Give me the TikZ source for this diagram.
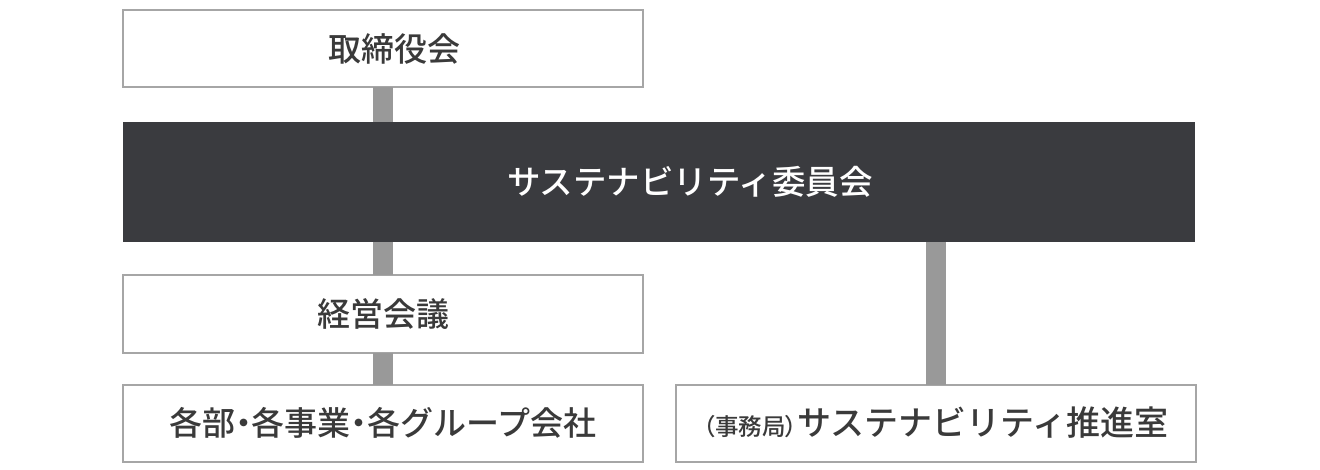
\documentclass[tikz,border=0pt]{standalone}
\usepackage{fontspec}
\setmainfont{Noto Sans CJK JP Medium}
\newfontfamily\paltfont{Noto Sans CJK JP Medium}[RawFeature=+palt]
\definecolor{boxline}{HTML}{A6A6A6}
\definecolor{connc}{HTML}{999999}
\definecolor{darkfill}{HTML}{3A3B3F}
\definecolor{txt}{HTML}{3A3A3A}
\newcommand{\pdot}{{\paltfont ・}}
\begin{document}
\begin{tikzpicture}[x=1pt,y=-1pt,
  wbox/.style={draw=boxline,line width=2pt,fill=white,minimum width=520pt,minimum height=77pt,inner sep=0pt,outer sep=0pt,text=txt,font=\fontsize{33}{36}\selectfont},
  dbox/.style={fill=darkfill,minimum width=1072pt,minimum height=120pt,inner sep=0pt,outer sep=0pt},
  conn/.style={draw=connc,line width=20pt}]
\useasboundingbox (0,0) rectangle (1320,470);
\fill[white] (0,0) rectangle (1320,470);
\node[wbox] (board) at (383,49) {\hspace*{22pt}取締役会};
\node[dbox,label={[text=white,font=\fontsize{33.5}{36}\selectfont,xshift=31pt]center:サステナビリティ委員会}] (comm) at (659,182) {};
\node[wbox] (mgmt) at (383,314) {経営会議};
\node[wbox] (depts) at (383,423) {各部\pdot 各事業\pdot 各グループ会社};
\node[wbox,font=\fontsize{34}{36}\selectfont] (office) at (936,423) {{\paltfont\fontsize{23.5}{24}\selectfont（事務局）}サステナビリティ推進室};
\draw[conn] (board.south) -- (comm.north -| board.south);
\draw[conn] (comm.south -| mgmt.north) -- (mgmt.north);
\draw[conn] (mgmt.south) -- (depts.north);
\draw[conn] (comm.south -| office.north) -- (office.north);
\end{tikzpicture}
\end{document}
